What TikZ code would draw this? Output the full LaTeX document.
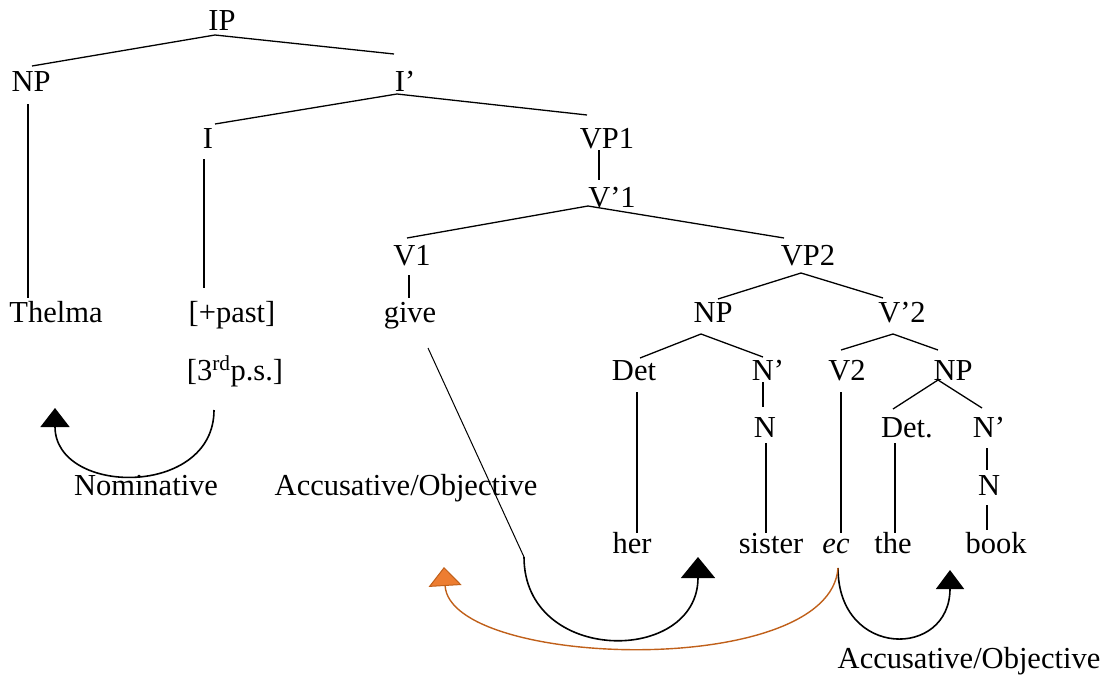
\documentclass[tikz,border=0pt]{standalone}
\usepackage{fontspec}
\setmainfont{Liberation Serif}
\usetikzlibrary{arrows.meta,calc}
\definecolor{orline}{HTML}{C0601A}
\definecolor{orfill}{HTML}{ED7D31}
\begin{document}
\begin{tikzpicture}[x=1pt,y=1pt,
  lab/.style={inner sep=0pt,anchor=base,font=\fontsize{30.5}{36}\selectfont},
  br/.style={line width=1.3pt},
  arc/.style={line width=1.6pt},
]
\useasboundingbox (0,0) rectangle (1105,-677);
% nodes
\node[lab] (ip) at (222,-31) {IP};
\node[lab] (np1) at (31,-91) {NP};
\node[lab] (ibar) at (405,-91) {I’};
\node[lab] (i) at (208,-148) {I};
\node[lab] (vp1) at (607,-148) {VP1};
\node[lab] (vbar1) at (612,-207) {V’1};
\node[lab] (v1) at (412,-265) {V1};
\node[lab] (vp2) at (808,-265) {VP2};
\node[lab] (thelma) at (56,-322) {Thelma};
\node[lab] (past) at (232,-322) {[+past]};
\node[lab] (give) at (410,-322) {give};
\node[lab] (np2) at (713,-322) {NP};
\node[lab] (vbar2) at (902,-322) {V’2};
\node[lab] (ps) at (235,-380) {[3\textsuperscript{rd}p.s.]};
\node[lab] (det1) at (634,-380) {Det};
\node[lab] (nbar1) at (768,-380) {N’};
\node[lab] (v2) at (847,-380) {V2};
\node[lab] (np3) at (953,-380) {NP};
\node[lab] (n1) at (765,-437) {N};
\node[lab] (det2) at (907,-437) {Det.};
\node[lab] (nbar2) at (989,-437) {N’};
\node[lab] (n2) at (989,-495) {N};
\node[lab] (nom) at (146,-495) {Nominative};
\node[lab] (acc1) at (406,-495) {Accusative/Objective};
\node[lab] (her) at (632,-553) {her};
\node[lab] (sister) at (771,-553) {sister};
\node[lab] (ec) at (836,-553) {\textit{ec}};
\node[lab] (the) at (893,-553) {the};
\node[lab] (book) at (996,-553) {book};
\node[lab] (acc2) at (969,-668) {Accusative/Objective};
% tree branches
\draw[br] ([shift={(1,25)}]np1.base) -- ([shift={(-7,-4)}]ip.base) -- ([shift={(-11,37)}]ibar.base);
\draw[br] ([shift={(7,24)}]i.base) -- ([shift={(-8,-3)}]ibar.base) -- ([shift={(-20,33)}]vp1.base);
\draw[br] ([shift={(-8,-2)}]vp1.base) -- ([shift={(-13,27)}]vbar1.base);
\draw[br] ([shift={(-5,27)}]v1.base) -- ([shift={(-24,1)}]vbar1.base) -- ([shift={(-24,27)}]vp2.base);
\draw[br] ([shift={(-3,-10)}]v1.base) -- ([shift={(-1,24)}]give.base);
\draw[br] ([shift={(5,23)}]np2.base) -- ([shift={(-7,-8)}]vp2.base) -- ([shift={(-19,24)}]vbar2.base);
\draw[br] ([shift={(6,22)}]det1.base) -- ([shift={(-12,-12)}]np2.base) -- ([shift={(-5,23)}]nbar1.base);
\draw[br] ([shift={(-6,30)}]v2.base) -- ([shift={(-9,-12)}]vbar2.base) -- ([shift={(-15,30)}]np3.base);
\draw[br] ([shift={(-5,-2)}]nbar1.base) -- ([shift={(-2,30)}]n1.base);
\draw[br] ([shift={(3,-12)}]det1.base) -- ([shift={(5,20)}]her.base);
\draw[br] ([shift={(-6,-12)}]v2.base) -- ([shift={(5,20)}]ec.base);
\draw[br] ([shift={(-14,28)}]det2.base) -- ([shift={(-15,0)}]np3.base) -- ([shift={(-7,29)}]nbar2.base);
\draw[br] ([shift={(1,-6)}]n1.base) -- ([shift={(-5,20)}]sister.base);
\draw[br] ([shift={(-12,-6)}]det2.base) -- ([shift={(2,20)}]the.base);
\draw[br] ([shift={(-2,-11)}]nbar2.base) -- ([shift={(-2,25)}]n2.base);
\draw[br] ([shift={(-2,-10)}]n2.base) -- ([shift={(-9,23)}]book.base);
\draw[br] ([shift={(-3,-13)}]np1.base) -- ([shift={(-28,24)}]thelma.base);
\draw[br] ([shift={(-4,-11)}]i.base) -- ([shift={(-28,34)}]past.base);
% case arrows
\coordinate (gstart) at ([shift={(18,-26)}]give.base);
\coordinate (gend) at (524,-557);
\coordinate (herarr) at (698,-557);
\coordinate (ecbot) at (838,-568);
\coordinate (bookarr) at (950,-570);
\coordinate (nomstart) at (214,-410);
\coordinate (nomarr) at (55,-408);
\coordinate (orarr) at (444,-567);
\draw[line width=1pt] (gstart) -- (gend);
\draw[arc,-{Triangle[width=34pt,length=21pt]}] (gend) .. controls (524,-665) and (698,-665) .. (herarr);
\draw[arc,-{Triangle[width=29pt,length=19pt]}] (nomstart) .. controls (214,-498) and (55,-496) .. (nomarr);
\draw[arc,-{Triangle[width=28pt,length=19pt]}] (ecbot) .. controls (838,-659) and (950,-659) .. (bookarr);
\draw[line width=1.4pt,orline,-{Triangle[width=33pt,length=19pt,fill=orfill,line width=1pt]}] (ecbot) .. controls (830,-680) and (450,-668) .. (orarr);
\end{tikzpicture}
\end{document}
